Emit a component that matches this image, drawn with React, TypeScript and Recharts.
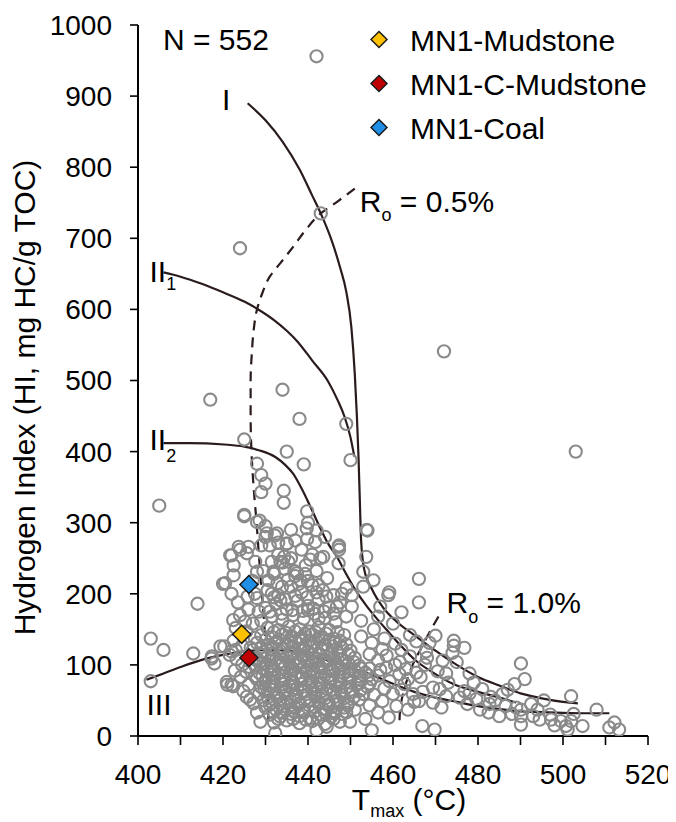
import React from 'react';
import { ComposedChart, Scatter, Line, XAxis, YAxis, ReferenceDot } from 'recharts';

type P = [number, number];

// ---------- sample data (Tmax °C, HI mg HC/g TOC) ----------
const hiUpper: P[] = [
  [442, 956], [443, 735], [424, 686], [472, 541], [503, 400], [417, 473], [434, 487], [438, 446],
  [449, 439], [450, 388], [425, 417], [435, 400], [439, 382], [428, 383], [429, 367], [430, 355],
  [429, 343], [434.3, 345], [434.3, 328], [405, 324], [439.8, 316], [425, 309], [428, 301], [430, 295],
  [442, 289], [454, 289], [432.2, 282], [430, 280], [439.8, 277], [435, 270], [447.3, 268], [447.3, 262],
  [423.7, 266], [426, 266], [421.7, 254], [443.6, 252], [453.7, 252], [434.4, 252],
];

const hiLeftBand: P[] = [
  [425, 311], [428.6, 303], [430.3, 285], [432.7, 285], [431, 268], [424, 262], [422, 254], [425.6, 257],
  [427.6, 245], [422.5, 240], [420.5, 215], [422.5, 226], [428, 231], [430.7, 219], [431.9, 231], [433.5, 245],
  [435, 271], [435.4, 245], [437.4, 229], [438.2, 219], [433.9, 210], [431.5, 200], [428, 194], [428.4, 175],
  [425.2, 161], [433.5, 191], [440, 177], [442.5, 165], [439.7, 292], [441.7, 273], [442.9, 250], [447.2, 266],
  [447.2, 243], [453.8, 290], [453, 231], [455.4, 219], [449, 208], [448, 200], [450.3, 182], [450.3, 198],
  [453, 210], [458.9, 198], [457, 182], [446.8, 182], [419.4, 126], [417.4, 112], [422, 119], [424.5, 100],
  [420.9, 76], [422, 72], [425.6, 55], [426.4, 51], [428.8, 20], [432.3, 4], [442, 8], [444.4, 13],
  [449.9, 20], [455, 8], [446, 32], [403, 137], [406, 121], [403, 77], [414, 186], [413, 116],
  [417.3, 109], [418, 102], [420, 214], [422.4, 163], [421, 72], [422.4, 70], [420.3, 126], [421.6, 114],
  [423, 121], [423, 152], [425.5, 147], [427.5, 138], [422.5, 134], [424.5, 127], [426.5, 124], [423.2, 108],
  [425.5, 90], [427.5, 84], [422.8, 92], [424.2, 83], [426, 72], [424.8, 63], [427.2, 46], [428, 33],
  [426.2, 97], [428, 106], [427, 158], [424, 170], [426, 178], [423.5, 188], [425.8, 196], [422, 200], [427.5, 200],
];

const hiMidBand: P[] = [
  [429, 162], [431.5, 168], [434, 163], [436.5, 170], [439, 165], [441.5, 172], [444, 166], [446.5, 160], [449, 168],
  [430, 180], [432.5, 186], [435, 178], [437.5, 190], [440, 183], [442.5, 192], [445, 181], [447.5, 188],
  [430.5, 205], [433, 198], [436, 210], [438.5, 202], [441, 212], [443.5, 205], [446, 198],
  [432, 228], [434.5, 235], [437, 225], [439.5, 240], [442, 232], [444.5, 222],
  [433, 255], [436, 250], [438.5, 262], [441, 255], [431.5, 245], [429.5, 232], [427, 218], [429, 268],
  [437, 275], [433, 272], [436, 290], [444, 280], [440, 300],
  [431, 175], [433.8, 172], [436.3, 177], [438.8, 176], [441.3, 179], [443.8, 175], [446, 172],
  [432, 195], [434.6, 192], [437, 197], [439.8, 195], [442, 202], [444.3, 196],
  [432.8, 215], [435.3, 220], [437.8, 214], [440, 218], [442.5, 212], [434, 244], [436.8, 232], [439.3, 228], [440.5, 248],
];

const hiCore: P[] = [
  [430.5, 152], [433, 149], [435.5, 154], [438, 150], [440.2, 147], [442.5, 153], [445, 149],
  [429, 142], [431.5, 139], [434, 143], [436.2, 140], [438.5, 138], [441, 143], [443.2, 140], [446, 137], [448.5, 142],
  [428, 131], [430.5, 128], [432.5, 132], [435, 129], [437, 133], [439.5, 127], [441.5, 131], [444, 128], [446.5, 132], [449, 129],
  [427, 121], [429.5, 118], [431.5, 122], [433.5, 119], [436, 117], [438, 122], [440, 119], [442.5, 116], [444.5, 121], [447, 118], [450, 120],
  [428, 109], [430.5, 112], [432.5, 108], [435, 111], [437, 107], [439, 112], [441.5, 109], [443.5, 106], [446, 111], [448, 108], [451, 110],
  [427.5, 99], [429.5, 102], [431.5, 98], [434, 101], [436, 97], [438, 102], [440.5, 99], [442.5, 96], [445, 101], [447, 98], [449.5, 102], [452, 99],
  [428.5, 89], [430.5, 92], [433, 88], [435, 91], [437, 87], [439.5, 92], [441.5, 89], [444, 86], [446, 91], [448.5, 88], [451, 92], [453.5, 89],
  [428, 80], [430, 77], [432, 82], [434.5, 79], [436.5, 76], [438.5, 81], [441, 78], [443, 75], [445.5, 80], [447.5, 77], [450, 81], [452.5, 78], [455, 80],
  [429, 69], [431, 72], [433.5, 68], [435.5, 71], [437.5, 67], [440, 72], [442, 69], [444.5, 66], [446.5, 71], [449, 68], [451.5, 72], [454, 69],
  [428.5, 59], [430.5, 62], [432.5, 58], [434.5, 61], [437, 57], [439, 62], [441.5, 59], [443.5, 56], [446, 61], [448, 58], [450.5, 62], [453, 59],
  [429.5, 50], [431.5, 47], [433.5, 52], [436, 49], [438, 46], [440.5, 51], [442.5, 48], [445, 45], [447, 50], [449.5, 47], [452, 51],
  [430, 40], [432.5, 37], [434.5, 42], [437, 39], [439, 36], [441.5, 41], [443.5, 38], [446, 35], [448.5, 40], [451, 37],
  [431, 30], [433.5, 27], [436, 31], [438, 28], [440.5, 25], [443, 30], [445.5, 27], [448, 31],
  [432, 19], [435, 22], [438, 18], [441, 21], [444, 17], [447.5, 20],
];

const hiCoreFill: P[] = [
  [432, 146], [434.8, 145], [437, 147], [439.3, 144], [441.8, 146], [444.2, 144], [447, 146],
  [430, 135], [433.2, 136], [435.8, 134], [438, 136], [440.3, 134], [442.5, 136], [445, 135], [447.5, 134],
  [429, 125], [431.5, 126], [434, 124], [436.5, 126], [438.8, 124], [441, 126], [443.3, 124], [445.8, 126], [448, 124],
  [429, 114], [431.5, 116], [434, 114], [436.2, 115], [438.5, 113], [440.8, 115], [443, 114], [445.2, 115], [447.5, 113], [449.5, 115],
  [428.8, 104], [431, 106], [433.3, 104], [435.5, 105], [437.6, 103], [439.8, 105], [442, 104], [444.2, 106], [446.5, 104], [448.7, 105], [450.8, 104],
  [429.5, 95], [432, 94], [434.3, 96], [436.5, 94], [438.8, 96], [441, 94], [443.3, 95], [445.5, 93], [447.8, 95], [450, 94], [452.5, 95],
  [429.3, 84], [431.5, 86], [433.8, 84], [436, 86], [438.3, 84], [440.5, 85], [442.8, 83], [445, 85], [447.3, 84], [449.5, 86], [452, 84], [454.3, 85],
  [429.5, 74], [431.8, 75], [434, 73], [436.3, 75], [438.5, 73], [440.8, 75], [443, 73], [445.3, 75], [447.5, 73], [449.8, 75], [452, 74], [454.5, 74],
  [429.8, 64], [432, 65], [434.3, 63], [436.5, 65], [438.8, 63], [441, 65], [443.3, 63], [445.5, 65], [447.8, 63], [450, 65], [452.3, 64],
  [430.5, 54], [432.8, 55], [435, 53], [437.3, 55], [439.5, 53], [441.8, 55], [444, 53], [446.3, 55], [448.5, 53], [450.8, 55],
  [431, 44], [433.5, 45], [435.8, 43], [438, 45], [440.3, 43], [442.5, 45], [444.8, 43], [447, 45], [449.3, 43],
  [431.8, 34], [434, 33], [436.5, 35], [439, 33], [441.5, 34], [444, 33], [446.5, 34], [449, 33],
  [433, 24], [436.5, 24], [439.5, 23], [442.5, 25], [446, 24],
];

const hiRight: P[] = [
  [452.5, 140], [455, 131], [457.5, 122], [454.5, 115], [456.5, 106], [458.5, 113], [460.5, 100], [458.4, 96],
  [459.2, 77], [462.7, 73], [461.6, 104], [464.7, 59], [466.1, 49], [465.5, 89], [467.8, 119], [468.6, 131],
  [470, 141], [469.4, 68], [472.5, 56], [473, 75], [469.4, 47], [471.4, 40], [471.7, 106], [475, 104],
  [474.3, 134], [474.3, 127], [474, 117], [476.8, 124], [475.7, 54], [476.8, 63], [460.8, 42], [463.5, 37],
  [466.9, 14], [469.8, 9], [454.5, 95], [456.5, 85], [458, 67], [455.5, 58], [457.5, 49], [460, 59],
  [454.5, 43], [456.5, 33], [459, 26], [453.5, 24], [455.5, 150], [452.5, 162], [458, 137], [462, 121],
  [464, 112], [460.5, 130], [463, 94], [466.5, 83], [461.5, 87], [466.1, 221], [466.1, 188], [459.1, 202],
  [462, 174], [456.5, 168], [460, 158], [464, 142], [467.5, 100], [470.5, 91], [472.5, 88], [463.5, 80],
  [468, 110], [465.5, 133], [457, 93], [462, 65], [467, 62], [471, 66], [465, 48],
];

const hiTail: P[] = [
  [479.6, 52], [480.5, 37], [482.5, 33], [482.7, 45], [485, 28], [485.8, 59], [487, 65], [488.6, 73],
  [490.1, 102], [491, 80], [489, 40], [490.1, 28], [490.1, 16], [490.1, 37], [492.5, 45], [494, 37],
  [494.5, 23], [497.2, 23], [499.5, 21], [500.7, 14], [501.9, 21], [501.1, 9], [501.9, 56], [504.6, 14],
  [507.9, 37], [510.9, 12], [512.1, 19], [513.2, 9], [484, 50], [486.5, 42], [488, 31], [478, 60],
  [477.5, 45], [481, 66], [483, 55], [497, 30], [495.5, 50], [493, 28], [498, 15], [502.5, 31],
  [479, 75], [478, 88],
];

const mudstone: P[] = [[424.4, 143]];
const cMudstone: P[] = [[426.1, 110]];
const coal: P[] = [[426.1, 213]];

// ---------- kerogen type curves and maturity lines ----------
const curveI: P[] = [
  [425.8, 890], [430, 866], [434, 836], [438, 797], [441, 760], [443, 735], [445.5, 698], [447.5, 660],
  [449, 625], [450.2, 575], [451, 510], [451.5, 450], [451.9, 390], [452.2, 330], [452.5, 275], [453.2, 235],
  [455, 207], [457.5, 182], [461, 160], [465, 142], [470, 120], [475, 100], [480, 83], [485, 71],
  [490, 60], [495, 53], [500, 48], [503.5, 46],
];
const curveII1: P[] = [
  [406, 652], [410, 646], [415, 636], [420, 624], [425, 611], [428, 601], [432, 585], [435, 570],
  [437.5, 555], [441, 528], [444.6, 500], [447, 472], [448.6, 449], [450, 420], [450.9, 393],
];
const curveII2: P[] = [
  [406, 412], [412, 412], [420.3, 410], [425, 407], [428.4, 402], [432.4, 392], [434.5, 382], [436.5, 369],
  [438.5, 348], [440.6, 322], [442.6, 296], [444.6, 272], [447, 250], [448.8, 230], [451, 207], [453.9, 182],
  [456.5, 163], [459, 146], [462, 126], [465, 108], [470, 87], [474.2, 73], [480, 62], [484.4, 55], [489, 47],
];
const curveIII: P[] = [
  [402, 79], [406, 88], [410, 97], [415, 107], [420, 114], [425, 119], [430.5, 121], [435, 120],
  [440, 114], [444.7, 106], [450, 96], [455, 86], [459, 76], [465, 62], [470, 54], [475, 48],
  [480, 42], [485, 38], [489.5, 35], [495, 33.5], [500, 32.5], [505, 32], [510.9, 32],
];
const ro05: P[] = [
  [451, 770], [447, 752], [443, 735], [439.5, 712], [436.5, 688], [433.5, 665], [431, 646], [429.2, 622],
  [428, 600], [427.2, 570], [426.8, 540], [426.5, 500], [426.5, 450], [426.7, 400], [427.2, 350], [427.9, 300],
  [428.5, 250], [429.3, 190], [430, 130], [430.4, 80], [430.7, 18],
];
const ro10: P[] = [
  [470.7, 168], [468.5, 145], [466.5, 122], [465, 105], [463.5, 82], [462.3, 58], [461.7, 38], [461.5, 16],
];

const xTicks = [400, 410, 420, 430, 440, 450, 460, 470, 480, 490, 500, 510, 520];
const yTicks = [0, 100, 200, 300, 400, 500, 600, 700, 800, 900, 1000];

const legendItems = [
  { name: 'MN1-Mudstone', color: '#ffc000' },
  { name: 'MN1-C-Mudstone', color: '#c00000' },
  { name: 'MN1-Coal', color: '#1f8fe5' },
];

const annotations = [
  { id: 'I', x: 420.75, y: 880, main: 'I', sub: '', rest: '', dy: 0, anchor: 'middle' },
  { id: 'II1', x: 402.7, y: 638, main: 'II', sub: '1', rest: '', dy: 8, anchor: 'start' },
  { id: 'II2', x: 402.7, y: 402, main: 'II', sub: '2', rest: '', dy: 12, anchor: 'start' },
  { id: 'III', x: 402, y: 29.5, main: 'III', sub: '', rest: '', dy: 0, anchor: 'start' },
  { id: 'ro05', x: 452.2, y: 737, main: 'R', sub: 'o', rest: ' = 0.5%', dy: 9, anchor: 'start' },
  { id: 'ro10', x: 472.6, y: 173, main: 'R', sub: 'o', rest: ' = 1.0%', dy: 10, anchor: 'start' },
];

const FONT = 'Liberation Sans, Arial, Helvetica, sans-serif';
const CURVE = '#2a1c1c';

const toPts = (arr: P[]) => arr.map(([x, y]) => ({ x, y }));
const samples = toPts([...hiUpper, ...hiLeftBand, ...hiMidBand, ...hiCore, ...hiCoreFill, ...hiRight, ...hiTail]);

const Ring = (props: any) => {
  const { cx, cy } = props;
  if (cx == null || cy == null) return null;
  return <circle cx={cx} cy={cy} r={6.1} fill="none" stroke="#8a8a8a" strokeWidth={2.1} />;
};

const makeDiamond = (fill: string, h: number) => (props: any) => {
  const { cx, cy } = props;
  if (cx == null || cy == null) return null;
  return (
    <polygon
      points={`${cx},${cy - h} ${cx + h},${cy} ${cx},${cy + h} ${cx - h},${cy}`}
      fill={fill}
      stroke="#1a1a1a"
      strokeWidth={1.5}
    />
  );
};

const renderAnno = (a: typeof annotations[number]) => (p: any) => {
  const vb = p.viewBox || {};
  const x = vb.x ?? 0;
  const y = vb.y ?? 0;
  return (
    <text x={x} y={y} fontSize={30} fontFamily={FONT} fill="#000" textAnchor={a.anchor as any}>
      {a.main}
      {a.sub ? (
        <tspan fontSize={18} dy={a.dy}>
          {a.sub}
        </tspan>
      ) : null}
      {a.rest ? <tspan dy={-a.dy}>{a.rest}</tspan> : null}
    </text>
  );
};

const XTitle = (p: any) => {
  const vb = p.viewBox || {};
  const cx = vb.x + vb.width / 2 + 16;
  const by = vb.y + 74;
  return (
    <text x={cx} y={by} fontSize={30} fontFamily={FONT} fill="#000" textAnchor="middle">
      T
      <tspan fontSize={18} dy={7}>
        max
      </tspan>
      <tspan dy={-7}> (°C)</tspan>
    </text>
  );
};

const YTitle = (p: any) => {
  const vb = p.viewBox || {};
  const x = vb.x + 27;
  const y = vb.y + vb.height / 2 + 17;
  return (
    <text
      x={x}
      y={y}
      fontSize={30}
      fontFamily={FONT}
      fill="#000"
      textAnchor="middle"
      transform={`rotate(-90, ${x}, ${y})`}
    >
      Hydrogen Index (HI, mg HC/g TOC)
    </text>
  );
};

const tickStyle = { fontSize: 28, fill: '#000', fontFamily: FONT };

export default function App() {
  return (
    <div style={{ position: 'relative', width: 668, height: 814, fontFamily: FONT }}>
      <ComposedChart width={668} height={814} margin={{ top: 17, right: 28, bottom: 0, left: 0 }}>
        <XAxis
          type="number"
          dataKey="x"
          domain={[400, 520]}
          ticks={xTicks}
          interval={0}
          allowDataOverflow
          tickFormatter={(v: number) => (v % 20 === 0 ? String(v) : '')}
          height={86}
          tickSize={9}
          tickMargin={19}
          tick={tickStyle}
          axisLine={{ stroke: '#000', strokeWidth: 2 }}
          tickLine={{ stroke: '#000', strokeWidth: 1.6 }}
          label={XTitle}
        />
        <YAxis
          type="number"
          dataKey="y"
          domain={[0, 1000]}
          ticks={yTicks}
          interval={0}
          allowDataOverflow
          width={130}
          tickSize={8}
          tickMargin={18}
          tick={tickStyle}
          axisLine={{ stroke: '#000', strokeWidth: 2 }}
          tickLine={{ stroke: '#000', strokeWidth: 1.6 }}
          label={YTitle}
        />
        <Scatter data={samples} shape={Ring} isAnimationActive={false} legendType="none" />
        <Line data={toPts(curveI)} dataKey="y" type="monotone" stroke={CURVE} strokeWidth={2.2} dot={false} activeDot={false} isAnimationActive={false} />
        <Line data={toPts(curveII1)} dataKey="y" type="monotone" stroke={CURVE} strokeWidth={2.2} dot={false} activeDot={false} isAnimationActive={false} />
        <Line data={toPts(curveII2)} dataKey="y" type="monotone" stroke={CURVE} strokeWidth={2.2} dot={false} activeDot={false} isAnimationActive={false} />
        <Line data={toPts(curveIII)} dataKey="y" type="monotone" stroke={CURVE} strokeWidth={2.2} dot={false} activeDot={false} isAnimationActive={false} />
        <Line data={toPts(ro05)} dataKey="y" type="monotoneY" stroke={CURVE} strokeWidth={2.2} strokeDasharray="10 7" dot={false} activeDot={false} isAnimationActive={false} />
        <Line data={toPts(ro10)} dataKey="y" type="monotoneY" stroke={CURVE} strokeWidth={2.2} strokeDasharray="10 7" dot={false} activeDot={false} isAnimationActive={false} />
        <Scatter data={toPts(coal)} shape={makeDiamond('#1f8fe5', 9)} isAnimationActive={false} />
        <Scatter data={toPts(mudstone)} shape={makeDiamond('#ffc000', 9)} isAnimationActive={false} />
        <Scatter data={toPts(cMudstone)} shape={makeDiamond('#c00000', 9)} isAnimationActive={false} />
        {annotations.map((a) => (
          <ReferenceDot key={a.id} x={a.x} y={a.y} r={0} fill="none" stroke="none" label={renderAnno(a)} />
        ))}
      </ComposedChart>
      <svg
        width={668}
        height={814}
        style={{ position: 'absolute', left: 0, top: 0, pointerEvents: 'none' }}
      >
        <text x={155} y={42} fontSize={30} fontFamily={FONT} fill="#000">
          N = 552
        </text>
        {legendItems.map((it, i) => {
          const cy = 31.5 + i * 44;
          const h = 8;
          return (
            <g key={it.name}>
              <polygon
                points={`371,${cy - h} ${371 + h},${cy} 371,${cy + h} ${371 - h},${cy}`}
                fill={it.color}
                stroke="#1a1a1a"
                strokeWidth={1.5}
              />
              <text x={402} y={cy + 11} fontSize={30} fontFamily={FONT} fill="#000">
                {it.name}
              </text>
            </g>
          );
        })}
      </svg>
    </div>
  );
}
